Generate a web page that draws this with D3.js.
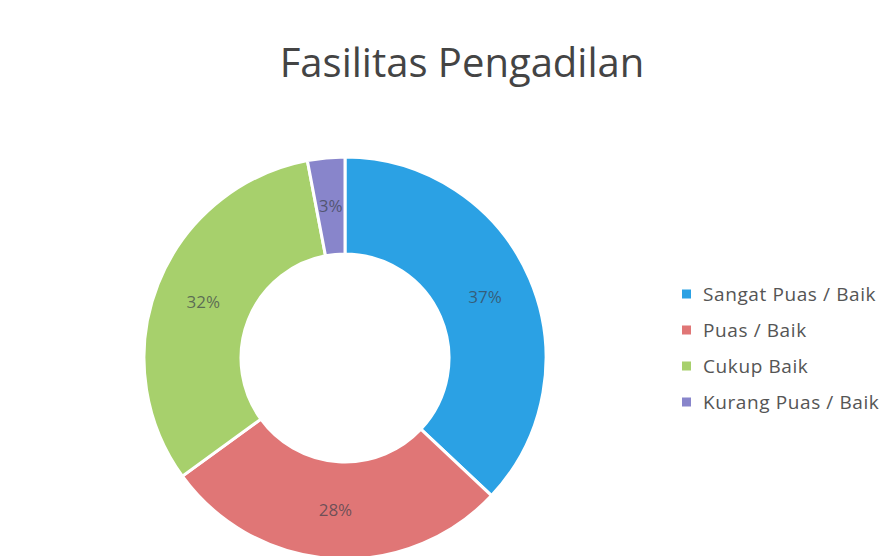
<!DOCTYPE html>
<html>
<head>
<meta charset="utf-8">
<script src="https://cdn.jsdelivr.net/npm/d3@7"></script>
<style>
  body { margin: 0; background: #fff; }
  svg { display: block; }
</style>
</head>
<body>
<div id="chart"></div>
<script>
//Data
const categories = ["Sangat Puas / Baik", "Puas / Baik", "Cukup Baik", "Kurang Puas / Baik"];
const values = [37, 28, 32, 3];
const colors = ["#2ba1e4", "#e07676", "#a7d06c", "#8885cb"];
const title = "Fasilitas Pengadilan";

//Display specifications
const width = 889, height = 556;
const cx = 345, cy = 358;
const outerR = 201, innerR = 104;

const svg = d3.select("#chart")
    .append("svg")
    .attr("width", width)
    .attr("height", height);

//Title
svg.append("text")
    .attr("x", 462)
    .attr("y", 77)
    .attr("text-anchor", "middle")
    .style("font-family", "'Open Sans', sans-serif")
    .style("font-size", "40px")
    .attr("fill", "#444")
    .text(title);

//Donut
const pie = d3.pie().sort(null).value(d => d.value);
const arc = d3.arc().innerRadius(innerR).outerRadius(outerR);
const labelArc = d3.arc().innerRadius((innerR + outerR) / 2).outerRadius((innerR + outerR) / 2);

const data = categories.map((c, i) => ({name: c, value: values[i], color: colors[i]}));
const total = d3.sum(values);

const g = svg.append("g")
    .attr("transform", "translate(" + cx + "," + cy + ")");

g.selectAll("path")
    .data(pie(data))
    .enter()
    .append("path")
    .attr("d", arc)
    .attr("fill", d => d.data.color)
    .attr("stroke", "#fff")
    .attr("stroke-width", 3);

g.selectAll("text")
    .data(pie(data))
    .enter()
    .append("text")
    .attr("transform", d => "translate(" + labelArc.centroid(d) + ")")
    .attr("dy", "0.35em")
    .attr("text-anchor", "middle")
    .style("font-family", "'Open Sans', sans-serif")
    .style("font-size", "17px")
    .attr("fill", "#3a3f4a")
    .attr("fill-opacity", 0.7)
    .text(d => Math.round(d.data.value / total * 100) + "%");

//Legend
const legend = svg.append("g")
    .attr("transform", "translate(682,294)");

const rows = legend.selectAll("g")
    .data(data)
    .enter()
    .append("g")
    .attr("transform", (d, i) => "translate(0," + i * 36 + ")");

rows.append("rect")
    .attr("x", 0)
    .attr("y", -4.5)
    .attr("width", 9)
    .attr("height", 9)
    .attr("fill", d => d.color);

rows.append("text")
    .attr("x", 21)
    .attr("dy", "0.35em")
    .style("font-family", "'Open Sans', sans-serif")
    .style("font-size", "19px")
    .style("letter-spacing", "0.6px")
    .attr("fill", "#555")
    .text(d => d.name);
</script>
</body>
</html>
